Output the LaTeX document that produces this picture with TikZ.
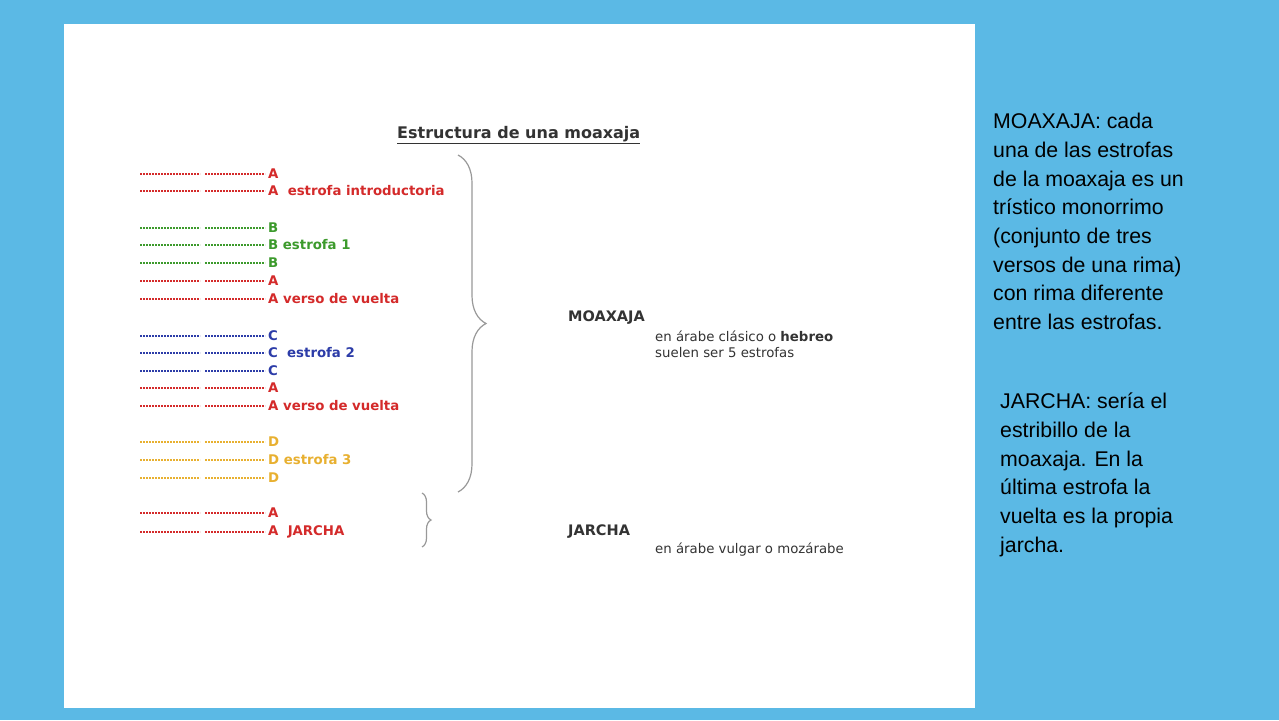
\documentclass[tikz,border=0pt]{standalone}
\usepackage{fontspec}
\setmainfont{Liberation Sans}
\newfontfamily\djfont{DejaVu Sans}
\usetikzlibrary{decorations.pathreplacing}
\definecolor{bg}{HTML}{5BB9E5}
\definecolor{rr}{HTML}{D42A2A}
\definecolor{gg}{HTML}{3C9A2C}
\definecolor{bb}{HTML}{2C3CA8}
\definecolor{oo}{HTML}{E8B030}
\definecolor{tx}{HTML}{333333}
\begin{document}
\begin{tikzpicture}[x=1pt,y=-1pt,
  lbl/.style={anchor=west,font=\djfont\bfseries\fontsize{13.3}{14}\selectfont,inner sep=0pt},
  sm/.style={anchor=west,font=\djfont\fontsize{13.3}{14}\selectfont,inner sep=0pt,text=tx},
  dl/.style={line width=1.3pt,dash pattern=on 2pt off 1pt},
  side/.style={anchor=north west,align=left,font=\fontsize{21.3}{28.7}\selectfont,inner sep=0pt,text=black},
  br/.style={draw=gray!80,line width=1.2pt,decorate}]
\fill[bg] (0,0) rectangle (1279,720);
\fill[white] (64,24) rectangle (975,708);
\node[lbl,text=tx,font=\djfont\bfseries\fontsize{16}{17}\selectfont] (title) at (397,135) {\underline{Estructura de una moaxaja}};
\foreach \y/\c/\l/\t in {174/rr/A/,191/rr/A/{\ \ estrofa introductoria},228/gg/B/,245/gg/B/{ estrofa 1},263/gg/B/,281/rr/A/,299/rr/A/{ verso de vuelta},336/bb/C/,353/bb/C/{\ \ estrofa 2},371/bb/C/,388/rr/A/,406/rr/A/{ verso de vuelta},442/oo/D/,460/oo/D/{ estrofa 3},478/oo/D/,513/rr/A/,532/rr/A/{\ \ JARCHA}}{
  \draw[dl,\c] (140,\y) -- (200,\y);
  \draw[dl,\c] (205,\y) -- (265,\y);
  \node[lbl,text=\c] (r\y) at (268,\y) {\l\t};
}
\draw[br,decoration={brace,amplitude=28pt,aspect=0.5}] (458,155) -- (458,492);
\draw[br,decoration={brace,amplitude=9pt,aspect=0.5}] (422,493) -- (422,547);
\node[lbl,text=tx,font=\djfont\bfseries\fontsize{14.5}{15}\selectfont] (moa) at (568,318) {MOAXAJA};
\node[sm] (m1) at (655,336) {en árabe clásico o \textbf{hebreo}};
\node[sm] (m2) at (655,353) {suelen ser 5 estrofas};
\node[lbl,text=tx,font=\djfont\bfseries\fontsize{14.5}{15}\selectfont] (jar) at (568,532) {JARCHA};
\node[sm] (j1) at (655,550) {en árabe vulgar o mozárabe};
\node[side] (s1) at (993,113) {MOAXAJA: cada\\una de las estrofas\\de la moaxaja es un\\trístico monorrimo\\(conjunto de tres\\versos de una rima)\\con rima diferente\\entre las estrofas.};
\node[side] (s2) at (1000,393) {JARCHA: sería el\\estribillo de la\\moaxaja. En la\\última estrofa la\\vuelta es la propia\\jarcha.};
\end{tikzpicture}
\end{document}
